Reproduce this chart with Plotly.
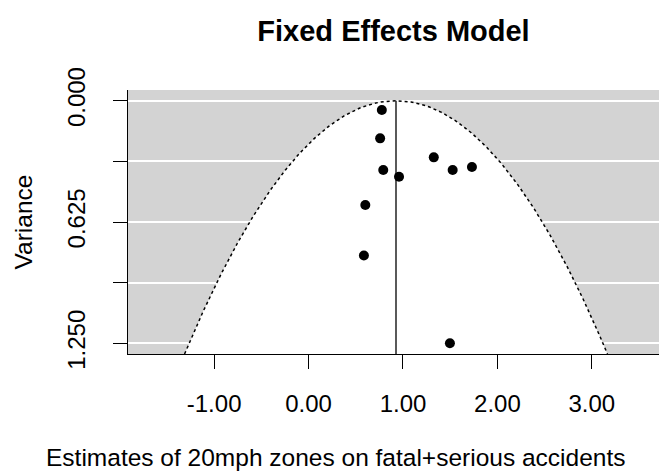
import numpy as np
import plotly.graph_objects as go

# ---- data ----
estimates = [0.776, 0.758, 1.326, 0.791, 0.958, 1.526, 1.730, 0.601, 0.586, 1.497]
variances = [0.048, 0.194, 0.292, 0.357, 0.392, 0.357, 0.342, 0.537, 0.798, 1.250]
fe_estimate = 0.926
ci_z = 1.96

x_tick_vals = [-1, 0, 1, 2, 3]
x_tick_text = ["-1.00", "0.00", "1.00", "2.00", "3.00"]
y_tick_vals = [0.0, 0.3125, 0.625, 0.9375, 1.25]
y_tick_text = ["0.000", "", "0.625", "", "1.250"]

x_range = [-1.912, 3.711]
y_range = [1.305, -0.055]

# ---- funnel region ----
v = np.linspace(0, y_range[0], 200)
half = ci_z * np.sqrt(v)
fx = np.concatenate([(fe_estimate - half)[::-1], fe_estimate + half])
fy = np.concatenate([v[::-1], v])

FONT = "Liberation Sans, Arial, sans-serif"

fig = go.Figure()
fig.add_trace(go.Scatter(x=fx, y=fy, mode="lines", fill="toself",
                         fillcolor="white", line=dict(width=0),
                         hoverinfo="skip", showlegend=False))
fig.add_trace(go.Scatter(x=fx, y=fy, mode="lines",
                         line=dict(color="black", width=1.5, dash="dot"),
                         hoverinfo="skip", showlegend=False))
fig.add_trace(go.Scatter(x=[fe_estimate, fe_estimate], y=[0, y_range[0]], mode="lines",
                         line=dict(color="black", width=1.3),
                         hoverinfo="skip", showlegend=False))
fig.add_trace(go.Scatter(x=estimates, y=variances, mode="markers",
                         marker=dict(color="black", size=10, line=dict(width=0)),
                         showlegend=False))

fig.update_layout(
    width=659, height=473,
    margin=dict(l=128, r=0, t=90, b=119),
    paper_bgcolor="white", plot_bgcolor="#D3D3D3",
    font=dict(family=FONT, size=24, color="black"),
    title=dict(text="<b>Fixed Effects Model</b>", x=0.5, xref="paper", xanchor="center",
               y=1 - 31 / 473, yref="container", yanchor="middle",
               font=dict(family=FONT, size=29, color="black")),
    xaxis=dict(range=x_range, tickvals=x_tick_vals, ticktext=x_tick_text,
               showgrid=False, zeroline=False, showline=True, linecolor="black",
               linewidth=1, ticks="outside", ticklen=14, tickwidth=1, tickcolor="black",
               tickfont=dict(family=FONT, size=24, color="black"),
               ticklabelstandoff=14),
    yaxis=dict(range=y_range, tickvals=y_tick_vals, ticktext=y_tick_text,
               showgrid=True, gridcolor="white", gridwidth=1.5, zeroline=False,
               showline=True, linecolor="black", linewidth=1,
               ticks="outside", ticklen=14, tickwidth=1, tickcolor="black",
               tickangle=-90, tickfont=dict(family=FONT, size=24, color="black"),
               ticklabelstandoff=18),
    annotations=[
        dict(text="Estimates of 20mph zones on fatal+serious accidents",
             xref="paper", yref="paper", x=(335 - 128) / 531, y=(354 - 457) / 264,
             xanchor="center", yanchor="middle", showarrow=False,
             font=dict(family=FONT, size=24.5, color="black")),
        dict(text="Variance", textangle=-90,
             xref="paper", yref="paper", x=(22.5 - 128) / 531, y=0.5,
             xanchor="center", yanchor="middle", showarrow=False,
             font=dict(family=FONT, size=24.5, color="black")),
    ],
)

fig.write_html("out.html")
